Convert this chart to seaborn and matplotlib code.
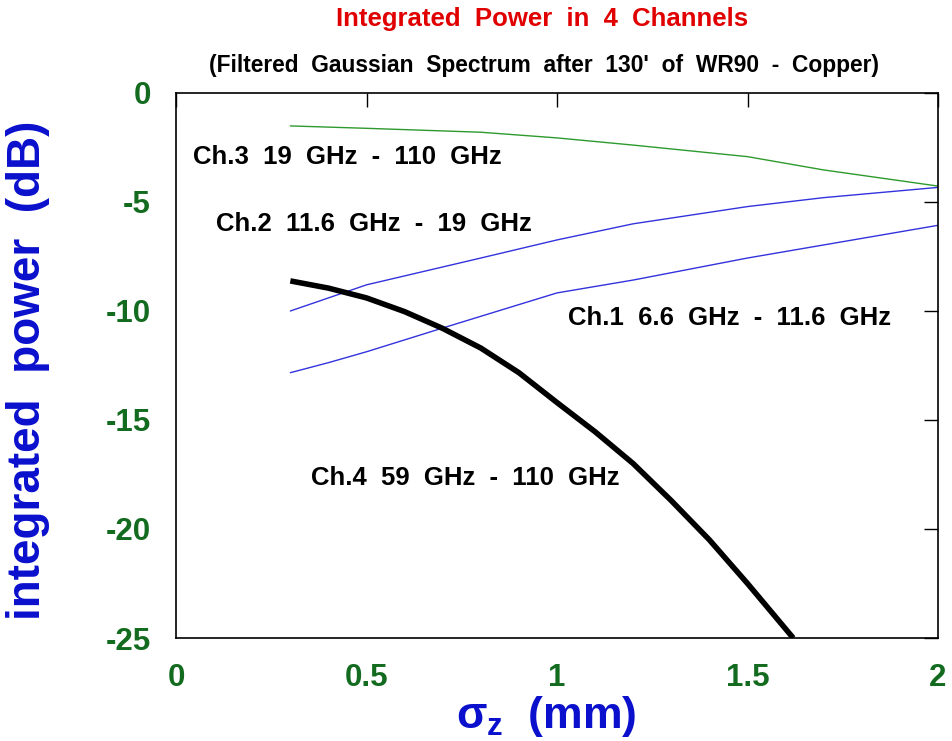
import matplotlib
matplotlib.use("Agg")
import matplotlib.pyplot as plt
import seaborn as sns
import pandas as pd

# ---- data ----
x_ch3 = [0.3, 0.5, 0.8, 1.0, 1.2, 1.5, 1.7, 1.85, 2.0]
y_ch3 = [-1.51, -1.62, -1.80, -2.06, -2.39, -2.92, -3.53, -3.90, -4.27]

x_ch2 = [0.3, 0.5, 0.8, 1.0, 1.2, 1.5, 1.7, 2.0]
y_ch2 = [-10.0, -8.8, -7.57, -6.74, -6.0, -5.21, -4.80, -4.33]

x_ch1 = [0.3, 0.4, 0.5, 0.7, 1.0, 1.2, 1.5, 1.7, 2.0]
y_ch1 = [-12.83, -12.37, -11.87, -10.78, -9.17, -8.58, -7.57, -6.97, -6.07]

x_ch4 = [0.3, 0.4, 0.5, 0.6, 0.7, 0.8, 0.9, 1.0, 1.1, 1.2, 1.3, 1.4, 1.5, 1.62]
y_ch4 = [-8.62, -8.95, -9.4, -10.03, -10.8, -11.7, -12.83, -14.2, -15.54,
         -17.0, -18.7, -20.5, -22.5, -25.0]

channel_labels = ["Ch.3  19  GHz  -  110  GHz",
                  "Ch.2  11.6  GHz  -  19  GHz",
                  "Ch.1  6.6  GHz  -  11.6  GHz",
                  "Ch.4  59  GHz  -  110  GHz"]
label_x = [0.045, 0.105, 1.03, 0.354]
label_y = [-2.94, -6.0, -10.3, -17.66]

x_ticks = [0, 0.5, 1, 1.5, 2]
x_tick_labels = ["0", "0.5", "1", "1.5", "2"]
y_ticks = [0, -5, -10, -15, -20, -25]
y_tick_labels = ["0", "-5", "-10", "-15", "-20", "-25"]

title = "Integrated  Power  in  4  Channels"
subtitle = "(Filtered  Gaussian  Spectrum  after  130'  of  WR90  -  Copper)"
x_label = r"$\sigma_z$  (mm)"
y_label = "integrated  power  (dB)"

# ---- styling ----
sns.set_style("white")
plt.rcParams["font.family"] = ["Liberation Sans", "DejaVu Sans"]
plt.rcParams["font.weight"] = "bold"
plt.rcParams["mathtext.fontset"] = "custom"
plt.rcParams["mathtext.rm"] = "Liberation Sans:bold"
plt.rcParams["mathtext.it"] = "Liberation Sans:bold"
plt.rcParams["mathtext.bf"] = "Liberation Sans:bold"

fig = plt.figure(figsize=(9.52, 7.41), dpi=100)
ax = fig.add_axes([0.1849, 0.139, 0.8004, 0.7355])

blue_line = "#3333dd"
green_line = "#2e9a2e"

sns.lineplot(x=x_ch3, y=y_ch3, ax=ax, color=green_line, linewidth=1.0)
sns.lineplot(x=x_ch2, y=y_ch2, ax=ax, color=blue_line, linewidth=1.0)
sns.lineplot(x=x_ch1, y=y_ch1, ax=ax, color=blue_line, linewidth=1.0)
sns.lineplot(x=x_ch4, y=y_ch4, ax=ax, color="black", linewidth=4.0,
             solid_capstyle="butt")

for lab, lx, ly in zip(channel_labels, label_x, label_y):
    ax.text(lx, ly, lab, fontsize=18.5, fontweight="bold", color="black",
            ha="left", va="center")

ax.set_xlim(0, 2)
ax.set_ylim(-25, 0)
ax.set_xticks(x_ticks)
ax.set_xticklabels(x_tick_labels)
ax.set_yticks(y_ticks)
ax.set_yticklabels(y_tick_labels)

tick_green = "#136b1f"
ax.tick_params(axis="both", direction="in", length=10, width=1,
               top=True, right=True, colors="black",
               labelcolor=tick_green, labelsize=22.5)
ax.tick_params(axis="x", pad=18)
ax.tick_params(axis="y", pad=18)
for t in ax.get_xticklabels() + ax.get_yticklabels():
    t.set_fontweight("bold")

for sp in ax.spines.values():
    sp.set_color("black")
    sp.set_linewidth(1.2)

ax.set_xlabel(x_label, fontsize=32, color="#0a10cc", fontweight="bold")
ax.set_ylabel(y_label, fontsize=33, color="#0a10cc", fontweight="bold")
ax.xaxis.set_label_coords(0.486, -0.103)
ax.yaxis.set_label_coords(-0.166, 0.492)

fig.text(0.569, 0.974, title, ha="center", va="center", fontsize=18.5,
         fontweight="bold", color="#e00000")
fig.text(0.571, 0.912, subtitle, ha="center", va="center", fontsize=16.4,
         fontweight="bold", color="black")

fig.savefig("out.png", dpi=100)
